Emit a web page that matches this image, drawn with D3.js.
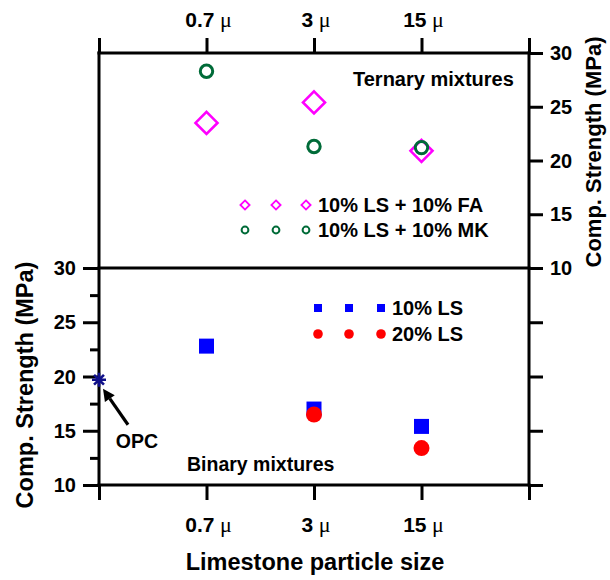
<!DOCTYPE html>
<html>
<head>
<meta charset="utf-8">
<script src="https://cdn.jsdelivr.net/npm/d3@7"></script>
<style>
  body { margin: 0; background: #fff; }
  svg text { font-family: "Liberation Sans", Arial, Helvetica, sans-serif; font-weight: bold; fill: #000; }
</style>
</head>
<body>
<svg id="chart" width="610" height="580"></svg>
<script>
// Particle sizes (category positions 1..3 on a 0..4 axis)
const sizeLabels = ["0.7", "3", "15"];
const sizePos = [1, 2, 3];

// Ternary mixtures (upper panel, right axis), MPa
const ternaryFA = [23.5, 25.4, 20.9];   // 10% LS + 10% FA
const ternaryMK = [28.3, 21.3, 21.2];   // 10% LS + 10% MK

// Binary mixtures (lower panel, left axis), MPa
const binary10 = [22.8, 17.0, 15.4];    // 10% LS
const binary20Pos = [2, 3];
const binary20 = [16.5, 13.4];          // 20% LS

// Reference cement
const opcPos = 0;
const opcValue = 19.7;

// Tick values
const strengthTicks = [10, 15, 20, 25, 30];
const strengthMinor = [12.5, 17.5, 22.5, 27.5];
const lowerRightTicks = [10, 15, 20, 25];
const xTickPos = [0, 1, 2, 3, 4];

const svg = d3.select("#chart");

const x = d3.scaleLinear().domain([0, 4]).range([99, 529]);
const yTop = d3.scaleLinear().domain([10, 30]).range([268, 53]);
const yBot = d3.scaleLinear().domain([10, 30]).range([485, 268]);

const black = "#000";
const lw = 3;

// ---- Axes via d3.axis ----
function styleAxis(g) {
  g.select(".domain").remove();
  g.selectAll(".tick line").attr("stroke", black).attr("stroke-width", lw);
  g.selectAll(".tick text").remove();
}

// top & bottom category ticks
svg.append("g").attr("transform", `translate(0,${yTop(30)})`)
  .call(d3.axisTop(x).tickValues(xTickPos).tickSize(15)).call(styleAxis);
svg.append("g").attr("transform", `translate(0,${yBot(10)})`)
  .call(d3.axisBottom(x).tickValues(xTickPos).tickSize(15)).call(styleAxis);

// left axis (binary, lower panel)
svg.append("g").attr("transform", `translate(${x(0)},0)`)
  .call(d3.axisLeft(yBot).tickValues(strengthTicks).tickSize(16)).call(styleAxis);
svg.append("g").attr("transform", `translate(${x(0)},0)`)
  .call(d3.axisLeft(yBot).tickValues(strengthMinor).tickSize(9)).call(styleAxis);

// right axis (ternary, upper panel) plus unlabeled ticks below
svg.append("g").attr("transform", `translate(${x(4)},0)`)
  .call(d3.axisRight(yTop).tickValues(strengthTicks).tickSize(14)).call(styleAxis);
svg.append("g").attr("transform", `translate(${x(4)},0)`)
  .call(d3.axisRight(yBot).tickValues(lowerRightTicks).tickSize(14)).call(styleAxis);

// frame
const frame = svg.append("g").attr("stroke", black).attr("stroke-width", lw).attr("stroke-linecap", "square");
frame.append("line").attr("x1", x(0)).attr("x2", x(4)).attr("y1", yTop(30)).attr("y2", yTop(30));
frame.append("line").attr("x1", x(0)).attr("x2", x(4)).attr("y1", yBot(10)).attr("y2", yBot(10));
frame.append("line").attr("x1", x(0)).attr("x2", x(4)).attr("y1", yTop(10)).attr("y2", yTop(10));
frame.append("line").attr("x1", x(0)).attr("x2", x(0)).attr("y1", yTop(30)).attr("y2", yBot(10));
frame.append("line").attr("x1", x(4)).attr("x2", x(4)).attr("y1", yTop(30)).attr("y2", yBot(10));

// ---- Tick labels ----
const fs = 20;
const xfs = 21;
function sizeLabel(sel, i) {
  sel.append("tspan").text(sizeLabels[i]);
  sel.append("tspan")
    .attr("font-family", "'Liberation Serif', 'Times New Roman', serif")
    .attr("font-weight", "normal")
    .attr("font-size", xfs + 1)
    .text("\u00a0\u03bc");
}
sizePos.forEach((p, i) => {
  svg.append("text").attr("x", x(p) + 2).attr("y", 27).attr("text-anchor", "middle")
    .attr("font-size", xfs).call(s => sizeLabel(s, i));
  svg.append("text").attr("x", x(p) + 2).attr("y", 532).attr("text-anchor", "middle")
    .attr("font-size", xfs).call(s => sizeLabel(s, i));
});

svg.selectAll(".lt").data(strengthTicks).join("text")
  .attr("x", 76).attr("y", d => yBot(d) + 7).attr("text-anchor", "end")
  .attr("font-size", fs).text(d => d);
svg.selectAll(".rt").data(strengthTicks).join("text")
  .attr("x", 550).attr("y", d => yTop(d) + 7).attr("text-anchor", "start")
  .attr("font-size", fs).text(d => d);

// ---- Axis titles ----
svg.append("text").attr("x", 315).attr("y", 570).attr("text-anchor", "middle")
  .attr("font-size", 23.5).text("Limestone particle size");
svg.append("text").attr("transform", "translate(33,385) rotate(-90)").attr("text-anchor", "middle")
  .attr("font-size", 23.5).text("Comp. Strength (MPa)");
svg.append("text").attr("transform", "translate(601,152) rotate(-90)").attr("text-anchor", "middle")
  .attr("font-size", 22).text("Comp. Strength (MPa)");

// ---- Panel captions ----
svg.append("text").attr("x", 353).attr("y", 86).attr("font-size", fs).text("Ternary mixtures");
svg.append("text").attr("x", 187).attr("y", 471).attr("font-size", 19.5).text("Binary mixtures");

// ---- Marker helpers ----
const magenta = "#ff00ff", green = "#006b38", blue = "#0000ff", red = "#ff0000", navy = "#10108a";
const diamondPath = r => `M0,${-r}L${r},0L0,${r}L${-r},0Z`;
function starPath(r) {
  let p = "";
  for (let k = 0; k < 4; k++) {
    const a = k * Math.PI / 4;
    const dx = r * Math.cos(a), dy = r * Math.sin(a);
    p += `M${-dx},${-dy}L${dx},${dy}`;
  }
  return p;
}

// ---- Upper panel: ternary ----
svg.append("g").selectAll("path").data(ternaryFA).join("path")
  .attr("transform", (d, i) => `translate(${x(sizePos[i])},${yTop(d)})`)
  .attr("d", diamondPath(11)).attr("fill", "none").attr("stroke", magenta).attr("stroke-width", 2.6);
svg.append("g").selectAll("circle").data(ternaryMK).join("circle")
  .attr("cx", (d, i) => x(sizePos[i])).attr("cy", d => yTop(d)).attr("r", 6.2)
  .attr("fill", "none").attr("stroke", green).attr("stroke-width", 3);

// ---- Lower panel: binary ----
svg.append("g").selectAll("rect").data(binary10).join("rect")
  .attr("x", (d, i) => x(sizePos[i]) - 7.5).attr("y", d => yBot(d) - 7.5)
  .attr("width", 15).attr("height", 15).attr("fill", blue);
svg.append("g").selectAll("circle").data(binary20).join("circle")
  .attr("cx", (d, i) => x(binary20Pos[i])).attr("cy", d => yBot(d)).attr("r", 8)
  .attr("fill", red);

// OPC star
svg.append("path")
  .attr("transform", `translate(${x(opcPos)},${yBot(opcValue)})`)
  .attr("d", starPath(7)).attr("stroke", navy).attr("stroke-width", 2.6).attr("fill", "none");

// OPC annotation arrow
const tipX = x(opcPos) + 4, tipY = yBot(opcValue) + 9;
const tailX = tipX + 25, tailY = tipY + 36;
const ang = Math.atan2(tipY - tailY, tipX - tailX);
const hl = 12, hw = 6;
const bx = tipX - hl * Math.cos(ang), by = tipY - hl * Math.sin(ang);
svg.append("line").attr("x1", tailX).attr("y1", tailY).attr("x2", bx).attr("y2", by)
  .attr("stroke", black).attr("stroke-width", 3.2);
svg.append("path")
  .attr("d", `M${tipX},${tipY}L${bx + hw * Math.sin(ang)},${by - hw * Math.cos(ang)}L${bx - hw * Math.sin(ang)},${by + hw * Math.cos(ang)}Z`)
  .attr("fill", black);
svg.append("text").attr("x", 137).attr("y", 448).attr("text-anchor", "middle")
  .attr("font-size", 19.5).text("OPC");

// ---- Legends ----
const legX = [245, 276, 306];
const topLeg = svg.append("g");
legX.forEach(lx => {
  topLeg.append("path").attr("transform", `translate(${lx},205)`).attr("d", diamondPath(4.6))
    .attr("fill", "none").attr("stroke", magenta).attr("stroke-width", 1.8);
  topLeg.append("circle").attr("cx", lx).attr("cy", 230).attr("r", 3.4)
    .attr("fill", "none").attr("stroke", green).attr("stroke-width", 2);
});
topLeg.append("text").attr("x", 318).attr("y", 212).attr("font-size", fs).text("10% LS + 10% FA");
topLeg.append("text").attr("x", 318).attr("y", 237).attr("font-size", fs).text("10% LS + 10% MK");

const legX2 = [318, 349, 381];
const botLeg = svg.append("g");
legX2.forEach(lx => {
  botLeg.append("rect").attr("x", lx - 4).attr("y", 304).attr("width", 8).attr("height", 8).attr("fill", blue);
  botLeg.append("circle").attr("cx", lx).attr("cy", 334).attr("r", 4.8).attr("fill", red);
});
botLeg.append("text").attr("x", 392).attr("y", 315).attr("font-size", fs).text("10% LS");
botLeg.append("text").attr("x", 392).attr("y", 341).attr("font-size", fs).text("20% LS");
</script>
</body>
</html>
